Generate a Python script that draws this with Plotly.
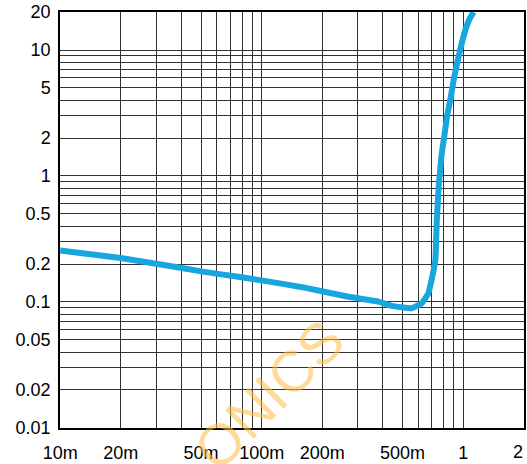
import plotly.graph_objects as go
import math

# Curve data
x_vals = [0.010, 0.020, 0.035, 0.051, 0.075, 0.109, 0.159, 0.27, 0.38, 0.442,
          0.556, 0.623, 0.672, 0.697, 0.719, 0.728, 0.740, 0.757, 0.781, 0.803,
          0.834, 0.866, 0.900, 0.937, 0.970, 1.019, 1.079, 1.127]
y_vals = [0.256, 0.223, 0.193, 0.174, 0.159, 0.145, 0.131, 0.110, 0.1006, 0.093,
          0.0891, 0.0977, 0.1173, 0.1496, 0.1906, 0.2154, 0.448, 0.849, 1.468, 1.99,
          3.05, 4.14, 5.96, 8.07, 10.3, 13.97, 17.85, 20.0]

# Tick labels (the last x label "2" sits at the right edge and is drawn as an annotation)
x_labels = {0.01: "10m", 0.02: "20m", 0.05: "50m", 0.1: "100m", 0.2: "200m",
            0.5: "500m", 1: "1"}
x_edge_label = "2"
y_labels = {0.01: "0.01", 0.02: "0.02", 0.05: "0.05", 0.1: "0.1", 0.2: "0.2",
            0.5: "0.5", 1: "1", 2: "2", 5: "5", 10: "10", 20: "20"}

x_decades = [0.01, 0.1, 1]
y_decades = [0.01, 0.1, 1, 10]
x_min, x_max = 0.01, 2
y_min, y_max = 0.01, 20


def grid_ticks(decades, vmax, labels):
    vals, texts = [], []
    for d in decades:
        for k in range(1, 10):
            v = round(k * d, 6)
            if v <= vmax + 1e-9:
                vals.append(v)
                lab = ""
                for key, t in labels.items():
                    if abs(key - v) < 1e-9:
                        lab = t
                texts.append(lab)
    return vals, texts


xv, xt = grid_ticks(x_decades, x_max, x_labels)
yv, yt = grid_ticks(y_decades, y_max, y_labels)

fig = go.Figure()
fig.add_trace(go.Scatter(
    x=x_vals, y=y_vals, mode="lines",
    line=dict(color="#18A6E0", width=6, shape="spline", smoothing=0.3),
    showlegend=False, hoverinfo="skip"))

font = dict(family="Liberation Sans, Arial, sans-serif", size=18, color="#000")
eps = 0.0008

fig.update_layout(
    width=527, height=464,
    margin=dict(l=60, r=1, t=12, b=36),
    paper_bgcolor="white", plot_bgcolor="white",
    showlegend=False,
    xaxis=dict(type="log", range=[math.log10(x_min) - eps, math.log10(x_max) + eps],
               tickmode="array", tickvals=xv, ticktext=xt,
               showgrid=True, gridcolor="#333333", gridwidth=1,
               showline=True, linecolor="#000", linewidth=1.5, mirror=True,
               ticks="", tickfont=font, ticklabelstandoff=8, zeroline=False),
    yaxis=dict(type="log", range=[math.log10(y_min) - eps, math.log10(y_max) + eps],
               tickmode="array", tickvals=yv, ticktext=yt,
               showgrid=True, gridcolor="#333333", gridwidth=1,
               showline=True, linecolor="#000", linewidth=1.5, mirror=True,
               ticks="", tickfont=font, ticklabelstandoff=4, zeroline=False),
    annotations=[
        dict(text="ONICS", xref="paper", yref="paper", x=0.45, y=0.08,
             xanchor="center", yanchor="middle",
             showarrow=False, textangle=-45,
             font=dict(family="Liberation Sans, Arial, sans-serif", size=58,
                       color="rgba(255,190,70,0.55)")),
        dict(text=x_edge_label, xref="paper", yref="paper", x=1, y=0,
             xanchor="center", yanchor="middle", xshift=-6.5, yshift=-24,
             showarrow=False, font=font),
    ],
)

fig.write_html(
    "out.html", config={"displayModeBar": False},
    post_script="document.body.style.margin='0';document.body.style.padding='0';")
